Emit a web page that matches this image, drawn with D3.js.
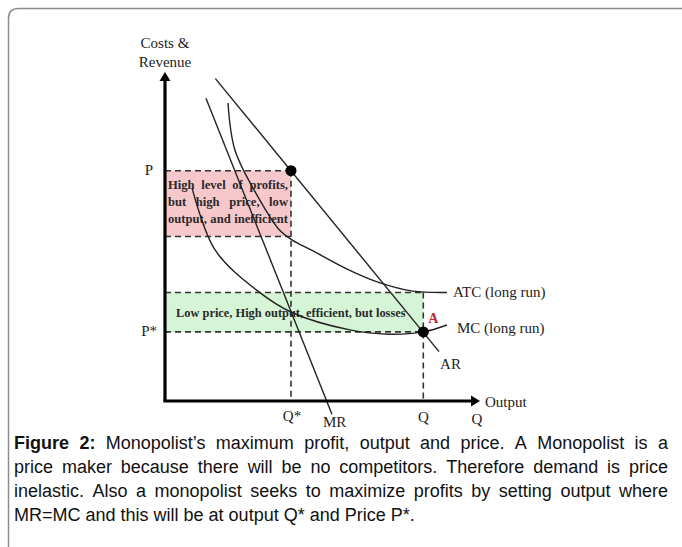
<!DOCTYPE html>
<html>
<head>
<meta charset="utf-8">
<script src="https://cdn.jsdelivr.net/npm/d3@7"></script>
<style>
  body { margin: 0; background: #fff; }
  svg { display: block; }
</style>
</head>
<body>
<script>
// points, in (output, cost) units from 0 to 100
const arLine = [[16, 98], [87, 15]];
const mrLine = [[13, 92], [53, -4]];
const mcCurve = [[8.6, 64.7], [15.9, 45.9], [29.5, 33.4], [40.3, 26.9], [58.7, 21.6], [71, 20.3], [82, 21], [89.5, 23.1]];
const atcCurve = [[20, 90.6], [22.2, 76.3], [29.2, 62.6], [36.5, 51.8], [40.3, 49], [47, 45.6], [57.8, 40.1], [68.3, 35.9], [78.7, 33.4], [89.5, 33]];

const outputMarks = [40, 82];
const outputLabels = ["Q*", "Q"];
const priceMarks = [70, 21];
const priceLabels = ["P", "P*"];
const profitBand = [50, 70];   // pink box, bottom/top cost
const lossBand = [21, 33];     // green box, bottom/top cost

const profitText = ["High level of profits,", "but high price, low", "output, and inefficient"];
const lossText = "Low price, High output, efficient, but losses";
const captionLines = [
    "Figure 2: Monopolist\u2019s maximum profit, output and price. A Monopolist is a",
    "price maker because there will be no competitors. Therefore demand is price",
    "inelastic. Also a monopolist seeks to maximize profits by setting output where",
    "MR=MC and this will be at output Q* and Price P*."
];

const W = 682, H = 547;
const serif = "'Liberation Serif', 'Times New Roman', serif";

const svg = d3.select("body").append("svg")
    .attr("width", W)
    .attr("height", H);

const x = d3.scaleLinear().domain([0, 100]).range([165, 480]);
const y = d3.scaleLinear().domain([0, 100]).range([401, 72]);

// frame round the figure
svg.append("path")
    .attr("d", `M${W},8.5 H18.5 Q8.5,8.5 8.5,18.5 V${H}`)
    .attr("fill", "none")
    .attr("stroke", "#8c8c8c")
    .attr("stroke-width", 1.5);

// shaded boxes
svg.append("rect")
    .attr("x", x(0))
    .attr("y", y(profitBand[1]))
    .attr("width", x(outputMarks[0]) - x(0))
    .attr("height", y(profitBand[0]) - y(profitBand[1]))
    .attr("fill", "#f6c8cc");

svg.append("rect")
    .attr("x", x(0))
    .attr("y", y(lossBand[1]))
    .attr("width", x(outputMarks[1]) - x(0))
    .attr("height", y(lossBand[0]) - y(lossBand[1]))
    .attr("fill", "#d6f5d6");

// spreads words so a line fills x0..x1
function justifyLine(g, words, x0, x1, yy, style, stretch) {
    let items = words.map(w => {
        let t = g.append("text")
            .attr("font-family", style.family)
            .attr("font-size", style.size)
            .attr("font-weight", w.bold ? "bold" : style.weight)
            .attr("fill", style.color)
            .text(w.t);
        return { t, w: t.node().getComputedTextLength() };
    });
    let total = d3.sum(items, d => d.w);
    let gap = stretch && items.length > 1 ? (x1 - x0 - total) / (items.length - 1) : style.space;
    let cx = x0;
    for (let it of items) {
        it.t.attr("x", cx).attr("y", yy);
        cx += it.w + gap;
    }
}

const boxText = svg.append("g");
const boxStyle = { family: serif, size: 12.6, weight: "bold", color: "#2a2a2a", space: 3.2 };
profitText.forEach((line, i) => {
    justifyLine(boxText, line.split(" ").map(t => ({ t })), x(0) + 3, x(outputMarks[0]) - 3, 189 + i * 17, boxStyle, true);
});

boxText.append("text")
    .attr("x", x(0) + 11)
    .attr("y", (y(lossBand[0]) + y(lossBand[1])) / 2 + 5)
    .attr("font-family", serif)
    .attr("font-size", 12.4)
    .attr("font-weight", "bold")
    .attr("fill", "#2a2a2a")
    .text(lossText);

// dashed guides
const dash = svg.append("g")
    .attr("stroke", "#333")
    .attr("stroke-width", 1.6)
    .attr("stroke-dasharray", "6,4")
    .attr("fill", "none");

[profitBand[1], profitBand[0]].forEach(v => {
    dash.append("line")
        .attr("x1", x(0)).attr("x2", x(outputMarks[0]))
        .attr("y1", y(v)).attr("y2", y(v));
});
lossBand.forEach(v => {
    dash.append("line")
        .attr("x1", x(0)).attr("x2", x(outputMarks[1]))
        .attr("y1", y(v)).attr("y2", y(v));
});
dash.append("line")
    .attr("x1", x(outputMarks[0])).attr("x2", x(outputMarks[0]))
    .attr("y1", y(priceMarks[0])).attr("y2", y(0));
dash.append("line")
    .attr("x1", x(outputMarks[1])).attr("x2", x(outputMarks[1]))
    .attr("y1", y(lossBand[1])).attr("y2", y(0));

// cost and revenue curves
const line = d3.line().x(d => x(d[0])).y(d => y(d[1]));
const smooth = d3.line().x(d => x(d[0])).y(d => y(d[1])).curve(d3.curveCatmullRom.alpha(0.5));

const curves = svg.append("g")
    .attr("fill", "none")
    .attr("stroke", "#222")
    .attr("stroke-width", 1.4);

curves.append("path").attr("d", line(arLine));
curves.append("path").attr("d", line(mrLine));
curves.append("path").attr("d", smooth(mcCurve));
curves.append("path").attr("d", smooth(atcCurve));

// axes with arrow heads
const axes = svg.append("g");
axes.append("line")
    .attr("x1", x(0)).attr("y1", y(0))
    .attr("x2", x(0)).attr("y2", y(100) + 7)
    .attr("stroke", "#000").attr("stroke-width", 3.2);
axes.append("line")
    .attr("x1", x(0) - 1.6).attr("y1", y(0))
    .attr("x2", x(100) - 7).attr("y2", y(0))
    .attr("stroke", "#000").attr("stroke-width", 3.2);
axes.append("path")
    .attr("d", `M${x(0)},${y(100)} L${x(0) + 5.5},${y(100) + 9} L${x(0) - 5.5},${y(100) + 9} Z`)
    .attr("fill", "#000");
axes.append("path")
    .attr("d", `M${x(100)},${y(0)} L${x(100) - 9},${y(0) - 5.5} L${x(100) - 9},${y(0) + 5.5} Z`)
    .attr("fill", "#000");

// equilibrium dots
svg.selectAll("circle.dot")
    .data([[outputMarks[0], priceMarks[0]], [outputMarks[1], priceMarks[1]]])
  .join("circle")
    .attr("class", "dot")
    .attr("cx", d => x(d[0]))
    .attr("cy", d => y(d[1]))
    .attr("r", 5.5)
    .attr("fill", "#000");

// labels
const lab = svg.append("g")
    .attr("font-family", serif)
    .attr("font-size", 15)
    .attr("fill", "#222");

lab.append("text").attr("x", x(0)).attr("y", 48).attr("text-anchor", "middle").text("Costs &");
lab.append("text").attr("x", x(0)).attr("y", 67).attr("text-anchor", "middle").text("Revenue");

lab.append("text").attr("x", x(0) - 12).attr("y", y(priceMarks[0]) + 4).attr("text-anchor", "end").text(priceLabels[0]);
lab.append("text").attr("x", x(0) - 8).attr("y", y(priceMarks[1]) + 4).attr("text-anchor", "end").text(priceLabels[1]);

lab.append("text").attr("x", x(outputMarks[0]) + 1).attr("y", y(0) + 20).attr("text-anchor", "middle").text(outputLabels[0]);
lab.append("text").attr("x", x(outputMarks[1])).attr("y", y(0) + 21).attr("text-anchor", "middle").text(outputLabels[1]);
lab.append("text").attr("x", x(100) - 3).attr("y", y(0) + 23).attr("text-anchor", "middle").text("Q");
lab.append("text").attr("x", x(100) + 5).attr("y", y(0) + 6).text("Output");

lab.append("text").attr("x", x(mrLine[1][0]) - 9).attr("y", y(0) + 26).text("MR");
lab.append("text").attr("x", x(arLine[1][0]) + 1).attr("y", y(arLine[1][1]) + 17).text("AR");
lab.append("text").attr("x", x(atcCurve[atcCurve.length - 1][0]) + 6).attr("y", y(lossBand[1]) + 5).text("ATC (long run)");
lab.append("text").attr("x", x(mcCurve[mcCurve.length - 1][0]) + 10).attr("y", y(priceMarks[1]) + 1).text("MC (long run)");

lab.append("text")
    .attr("x", x(outputMarks[1]) + 5)
    .attr("y", y(priceMarks[1]) - 9)
    .attr("font-size", 14)
    .attr("font-weight", "bold")
    .attr("fill", "#c0272d")
    .text("A");

// caption, justified like the journal page
const cap = svg.append("g");
const capStyle = { family: "'Liberation Sans', Arial, sans-serif", size: 18, weight: "normal", color: "#111", space: 5 };
captionLines.forEach((line, i) => {
    let words = line.split(" ").map((t, j) => ({ t, bold: i === 0 && j < 2 }));
    justifyLine(cap, words, 14, 668, 449 + i * 24, capStyle, i < captionLines.length - 1);
});
</script>
</body>
</html>
